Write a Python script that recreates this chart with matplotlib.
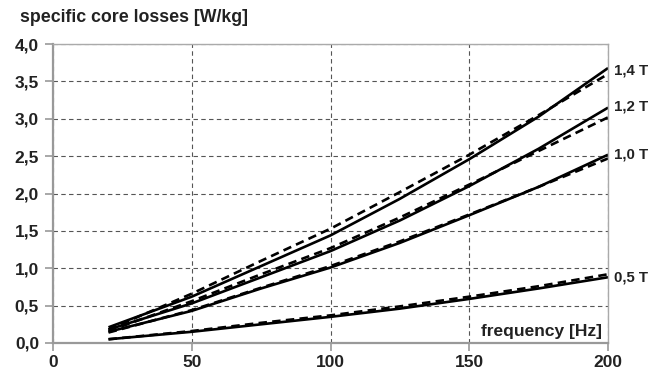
import matplotlib
matplotlib.use("Agg")
import matplotlib.pyplot as plt
from matplotlib.ticker import FuncFormatter

plt.rcParams['font.family'] = ['Liberation Sans', 'DejaVu Sans']

freq = [20, 50, 75, 100, 125, 150, 175, 200]
# solid curves (measured)
solid_14 = [0.21, 0.62, 1.03, 1.44, 1.93, 2.46, 3.03, 3.68]
solid_12 = [0.18, 0.53, 0.88, 1.23, 1.64, 2.10, 2.60, 3.15]
solid_10 = [0.15, 0.43, 0.73, 1.01, 1.34, 1.71, 2.09, 2.52]
solid_05 = [0.05, 0.15, 0.25, 0.35, 0.46, 0.59, 0.73, 0.88]
# dashed curves (model)
dash_14 = [0.18, 0.66, 1.10, 1.53, 2.02, 2.52, 3.05, 3.60]
dash_12 = [0.16, 0.56, 0.92, 1.27, 1.68, 2.12, 2.57, 3.02]
dash_10 = [0.14, 0.44, 0.74, 1.03, 1.36, 1.72, 2.09, 2.47]
dash_05 = [0.05, 0.16, 0.27, 0.37, 0.49, 0.62, 0.76, 0.92]

labels = ['1,4 T', '1,2 T', '1,0 T', '0,5 T']
label_y = [3.65, 3.17, 2.52, 0.87]

fig = plt.figure(figsize=(6.51, 3.74), dpi=100)
ax = fig.add_axes([0.0814, 0.0829, 0.8526, 0.7991])

for s in [solid_14, solid_12, solid_10, solid_05]:
    ax.plot(freq, s, color='black', lw=1.9, solid_capstyle='butt')
for d in [dash_14, dash_12, dash_10, dash_05]:
    ax.plot(freq, d, color='black', lw=1.9, dashes=(3.2, 2))

ax.set_xlim(0, 200)
ax.set_ylim(0, 4)
ax.set_xticks([0, 50, 100, 150, 200])
ax.set_yticks([0, 0.5, 1, 1.5, 2, 2.5, 3, 3.5, 4])
ax.yaxis.set_major_formatter(FuncFormatter(lambda v, p: ('%.1f' % v).replace('.', ',')))
ax.grid(True, color='#555555', lw=0.8, ls=(0, (4, 3)))
ax.set_axisbelow(True)

for side in ['left', 'bottom']:
    ax.spines[side].set_color('#999999')
    ax.spines[side].set_linewidth(1.6)
for side in ['top', 'right']:
    ax.spines[side].set_color('#aaaaaa')
    ax.spines[side].set_linewidth(1.0)

ax.tick_params(axis='both', colors='#999999', labelcolor='#222222', width=1.2,
               length=6, labelsize=12.5)
ax.tick_params(axis='x', pad=3)
ax.tick_params(axis='y', pad=4)
for t in ax.get_xticklabels() + ax.get_yticklabels():
    t.set_fontweight('bold')

for lab, y in zip(labels, label_y):
    ax.text(202, y, lab, fontsize=10.8, fontweight='bold', color='#222222',
            va='center', ha='left', clip_on=False)

ax.text(198, 0.15, 'frequency [Hz]', fontsize=12.5, fontweight='bold',
        color='#222222', ha='right', va='center')
fig.text(0.031, 0.952, 'specific core losses [W/kg]', fontsize=12.8,
         fontweight='bold', color='#222222', ha='left', va='center')

fig.savefig('out.png', dpi=100)
